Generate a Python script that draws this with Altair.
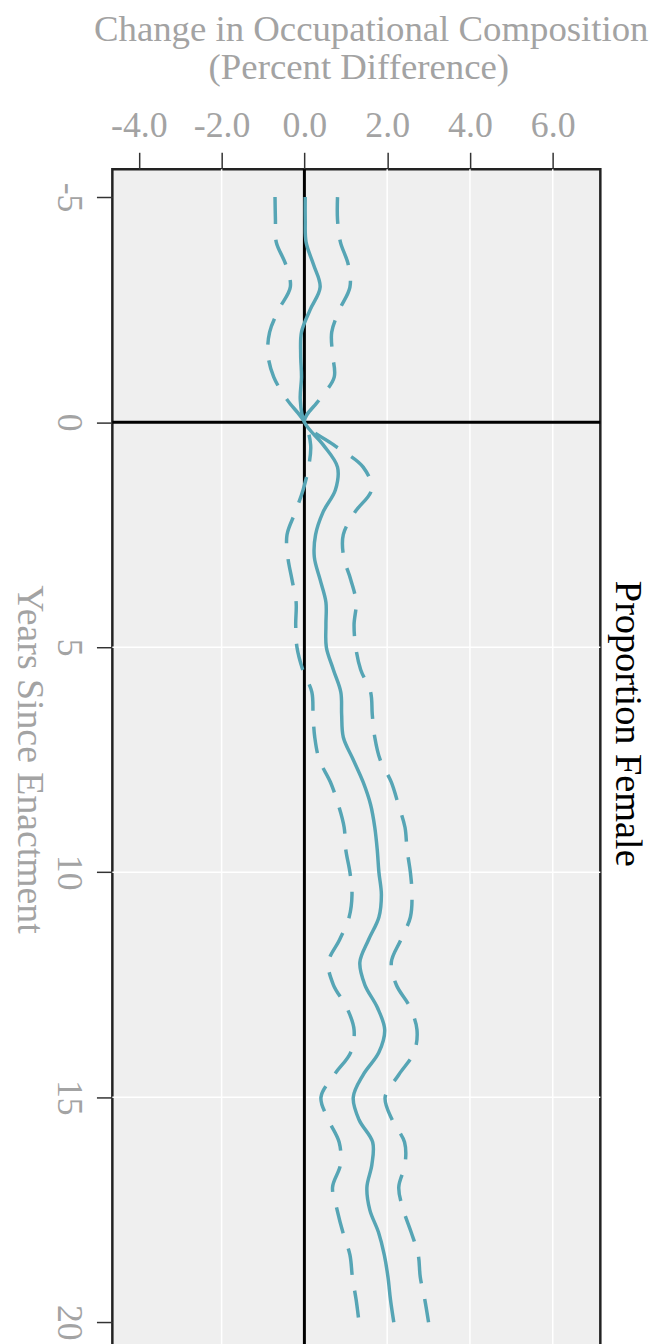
import altair as alt
import pandas as pd

# ---- data ----
years = [-5, -4.5, -4, -3.5, -3, -2.5, -2, -1.5, -1, -0.5,
         0, 0.5, 1, 1.5, 2, 2.5, 3, 3.5, 4, 4.5,
         5, 5.5, 6, 6.5, 7, 7.5, 8, 8.5, 9, 9.5,
         10, 10.5, 11, 11.5, 12, 12.5, 13, 13.5, 14, 14.5,
         15, 15.5, 16, 16.5, 17, 17.5, 18, 18.5, 19, 19.5, 20]

estimate = [0.02, 0.02, 0.04, 0.22, 0.38, 0.14, -0.07, -0.09, -0.07, -0.10,
            0.00, 0.45, 0.80, 0.75, 0.45, 0.27, 0.24, 0.38, 0.52, 0.52,
            0.53, 0.70, 0.88, 0.90, 0.94, 1.18, 1.42, 1.60, 1.70, 1.76,
            1.80, 1.86, 1.80, 1.55, 1.34, 1.46, 1.76, 1.94, 1.80, 1.42,
            1.18, 1.32, 1.65, 1.63, 1.51, 1.58, 1.79, 1.93, 2.02, 2.08, 2.16]

upper = [0.80, 0.80, 0.87, 1.06, 1.10, 0.85, 0.66, 0.68, 0.72, 0.36,
         0.00, 0.70, 1.42, 1.62, 1.22, 0.94, 0.95, 1.12, 1.25, 1.20,
         1.24, 1.36, 1.60, 1.64, 1.70, 1.83, 2.10, 2.27, 2.43, 2.48,
         2.56, 2.60, 2.56, 2.33, 2.10, 2.22, 2.55, 2.72, 2.65, 2.28,
         1.95, 2.12, 2.42, 2.43, 2.28, 2.39, 2.58, 2.75, 2.80, 2.91, 3.00]

lower = [-0.71, -0.70, -0.68, -0.45, -0.34, -0.62, -0.84, -0.88, -0.74, -0.42,
         0.00, 0.15, 0.10, -0.03, -0.22, -0.42, -0.40, -0.30, -0.20, -0.21,
         -0.18, -0.04, 0.18, 0.21, 0.25, 0.36, 0.63, 0.82, 0.96, 1.00,
         1.10, 1.15, 1.08, 0.85, 0.58, 0.70, 1.02, 1.20, 1.12, 0.72,
         0.40, 0.58, 0.84, 0.87, 0.68, 0.79, 0.93, 1.10, 1.16, 1.25, 1.32]

x_ticks = [-4, -2, 0, 2, 4, 6]
y_ticks = [-5, 0, 5, 10, 15, 20]
x_grid = [-2, 2, 4, 6]
y_grid = [5, 10, 15]

top_title = ["Change in Occupational Composition", "(Percent Difference)"]
left_title = "Years Since Enactment"
strip_label = "Proportion Female"

# ---- tables ----
est_df = pd.DataFrame({"year": years, "value": estimate})
ci_df = pd.concat([
    pd.DataFrame({"year": years, "value": upper, "band": "upper"}),
    pd.DataFrame({"year": years, "value": lower, "band": "lower"}),
])

W, H = 491, 1192
XDOM = [-4.64, 7.15]
YDOM = [-5.62, 20.70]
FONT = "Liberation Serif"
GRAY = "#A3A3A3"
TEAL = "#56A5B5"
HYPHEN = "replace(datum.label, '\u2212', '-')"

xscale = alt.Scale(domain=XDOM, nice=False, zero=False)
yscale = alt.Scale(domain=YDOM, nice=False, zero=False, reverse=True)

xaxis = alt.Axis(orient="top", values=x_ticks, format=".1f", labelExpr=HYPHEN,
                 title=None, grid=False, domain=False, labelFont=FONT,
                 labelFontSize=36, labelColor=GRAY, labelBaseline="alphabetic",
                 labelPadding=16, tickSize=17, tickColor="#333333", tickWidth=1.5)
yaxis = alt.Axis(orient="left", values=y_ticks, format="d", labelExpr=HYPHEN,
                 title=None, grid=False, domain=False, labelFont=FONT,
                 labelFontSize=36, labelColor=GRAY, labelAngle=90,
                 labelAlign="center", labelBaseline="alphabetic",
                 labelPadding=39, tickSize=16, tickColor="#333333",
                 tickWidth=1.5)


def X(field):
    return alt.X(field, type="quantitative", scale=xscale, axis=xaxis)


def Y(field):
    return alt.Y(field, type="quantitative", scale=yscale, axis=yaxis)


vgrid = alt.Chart(pd.DataFrame({"value": x_grid})).mark_rule(
    color="white", strokeWidth=1.5).encode(x=X("value"))
hgrid = alt.Chart(pd.DataFrame({"year": y_grid})).mark_rule(
    color="white", strokeWidth=1.5).encode(y=Y("year"))

vzero = alt.Chart(pd.DataFrame({"value": [0]})).mark_rule(
    color="black", strokeWidth=3).encode(x=X("value"))
hzero = alt.Chart(pd.DataFrame({"year": [0]})).mark_rule(
    color="black", strokeWidth=3).encode(y=Y("year"))

ci_lines = alt.Chart(ci_df).mark_line(
    color=TEAL, strokeWidth=3.5, strokeDash=[27, 16],
    interpolate="catmull-rom").encode(
    x=X("value"), y=Y("year"),
    detail="band:N",
    order="year:Q",
)
est_line = alt.Chart(est_df).mark_line(
    color=TEAL, strokeWidth=3.5, interpolate="catmull-rom").encode(
    x=X("value"), y=Y("year"),
    order="year:Q",
)


def label(text, x, y, size, color, angle=0):
    return alt.Chart(pd.DataFrame({"t": [text]})).mark_text(
        font=FONT, fontSize=size, color=color, angle=angle,
        align="center", baseline="alphabetic").encode(
        x=alt.value(x), y=alt.value(y), text="t:N")


t1 = label(top_title[0], 260.5, -128.7, 37, GRAY)
t2 = label(top_title[1], 248, -90.3, 37, GRAY)
t3 = label(left_title, -95, 594, 38, GRAY, angle=90)
t4 = label(strip_label, 507, 558, 38.5, "black", angle=90)

chart = alt.layer(
    vgrid, hgrid, vzero, hzero, ci_lines, est_line, t1, t2, t3, t4
).properties(
    width=W, height=H,
    background="white",
    autosize=alt.AutoSizeParams(type="none"),
    padding={"left": 105, "top": 158, "right": 54, "bottom": 0},
).configure_view(
    fill="#EFEFEF", stroke="#222222", strokeWidth=2.5
)

chart.save("out.html", embed_options={"renderer": "svg", "actions": False})
